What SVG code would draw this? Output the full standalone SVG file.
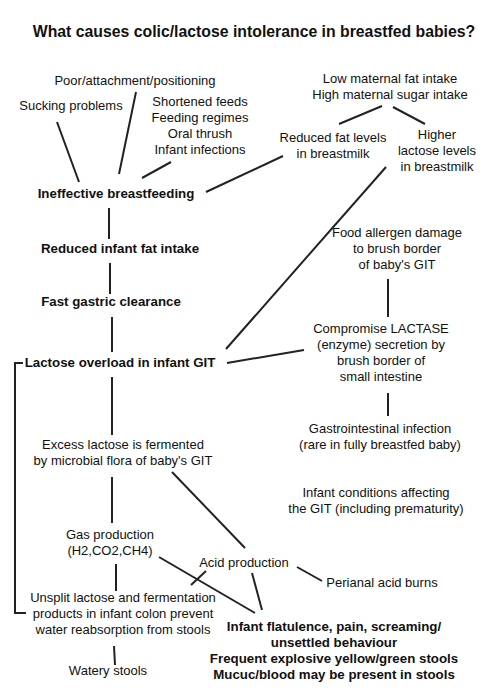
<svg xmlns="http://www.w3.org/2000/svg" width="500" height="699" viewBox="0 0 500 699">
<style>
text{font-family:"Liberation Sans",Arial,sans-serif;font-size:13px;fill:#111;text-anchor:middle}
.b{font-weight:bold;font-size:13.3px}
.t{font-weight:bold;font-size:15.8px}
.c line,.c path{stroke:#222;stroke-width:2;fill:none}
</style>
<rect width="500" height="699" fill="#fff"/>
<text class="t" x="254" y="37">What causes colic/lactose intolerance in breastfed babies?</text>
<g id="poor"><text x="135" y="85">Poor/attachment/positioning</text></g>
<g id="sucking"><text x="71" y="110">Sucking problems</text></g>
<g id="shortened"><text x="200" y="106">Shortened feeds</text><text x="200" y="122">Feeding regimes</text><text x="200" y="138">Oral thrush</text><text x="200" y="154">Infant infections</text></g>
<g id="maternal"><text x="390" y="83">Low maternal fat intake</text><text x="390" y="99">High maternal sugar intake</text></g>
<g id="reducedfat"><text x="333" y="142">Reduced fat levels</text><text x="333" y="158">in breastmilk</text></g>
<g id="higher"><text x="437" y="139">Higher</text><text x="437" y="155">lactose levels</text><text x="437" y="171">in breastmilk</text></g>
<g id="ineffective"><text class="b" x="116" y="198">Ineffective breastfeeding</text></g>
<g id="reducedinfant"><text class="b" x="120" y="253">Reduced infant fat intake</text></g>
<g id="fast"><text class="b" x="111" y="306">Fast gastric clearance</text></g>
<g id="overload"><text class="b" x="120" y="367">Lactose overload in infant GIT</text></g>
<g id="allergen"><text x="397" y="237">Food allergen damage</text><text x="397" y="253">to brush border</text><text x="397" y="269">of baby's GIT</text></g>
<g id="lactase"><text x="381" y="333">Compromise LACTASE</text><text x="381" y="349">(enzyme) secretion by</text><text x="381" y="365">brush border of</text><text x="381" y="381">small intestine</text></g>
<g id="gastro"><text x="380" y="433">Gastrointestinal infection</text><text x="380" y="449">(rare in fully breastfed baby)</text></g>
<g id="excess"><text x="123" y="449">Excess lactose is fermented</text><text x="123" y="465">by microbial flora of baby's GIT</text></g>
<g id="conditions"><text x="376" y="497">Infant conditions affecting</text><text x="376" y="513">the GIT (including prematurity)</text></g>
<g id="gas"><text x="110" y="539">Gas production</text><text x="110" y="555">(H2,CO2,CH4)</text></g>
<g id="acid"><text x="244" y="567">Acid production</text></g>
<g id="perianal"><text x="382" y="587">Perianal acid burns</text></g>
<g id="unsplit"><text x="123" y="602">Unsplit lactose and fermentation</text><text x="123" y="618">products in infant colon prevent</text><text x="123" y="634">water reabsorption from stools</text></g>
<g id="watery"><text x="108" y="675">Watery stools</text></g>
<g id="symptoms"><text class="b" x="334" y="631">Infant flatulence, pain, screaming/</text><text class="b" x="334" y="647">unsettled behaviour</text><text class="b" x="334" y="663">Frequent explosive yellow/green stools</text><text class="b" x="334" y="679">Mucuc/blood may be present in stools</text></g>
<g id="connectors" class="c">
<line x1="57" y1="122" x2="79" y2="182"/>
<line x1="136" y1="92" x2="119" y2="174"/>
<line x1="171" y1="162" x2="142" y2="178"/>
<line x1="283" y1="156" x2="206" y2="192"/>
<line x1="382" y1="106" x2="339" y2="124"/>
<line x1="393" y1="107" x2="425" y2="124"/>
<line x1="386" y1="167" x2="226" y2="349"/>
<line x1="109" y1="208" x2="109" y2="239"/>
<line x1="110" y1="263" x2="110" y2="294"/>
<line x1="112" y1="317" x2="112" y2="352"/>
<line x1="388" y1="279" x2="388" y2="317"/>
<line x1="304" y1="350" x2="227" y2="363"/>
<line x1="388" y1="393" x2="388" y2="416"/>
<line x1="112" y1="377" x2="112" y2="435"/>
<path d="M23 363H15V613H26"/>
<line x1="112" y1="477" x2="112" y2="523"/>
<line x1="172" y1="472" x2="245" y2="548"/>
<line x1="159" y1="557" x2="255" y2="613"/>
<line x1="206" y1="571" x2="191" y2="585"/>
<line x1="252" y1="573" x2="262" y2="610"/>
<line x1="297" y1="567" x2="322" y2="581"/>
<line x1="116" y1="564" x2="116" y2="591"/>
<line x1="114" y1="646" x2="115" y2="665"/>
</g>
</svg>
